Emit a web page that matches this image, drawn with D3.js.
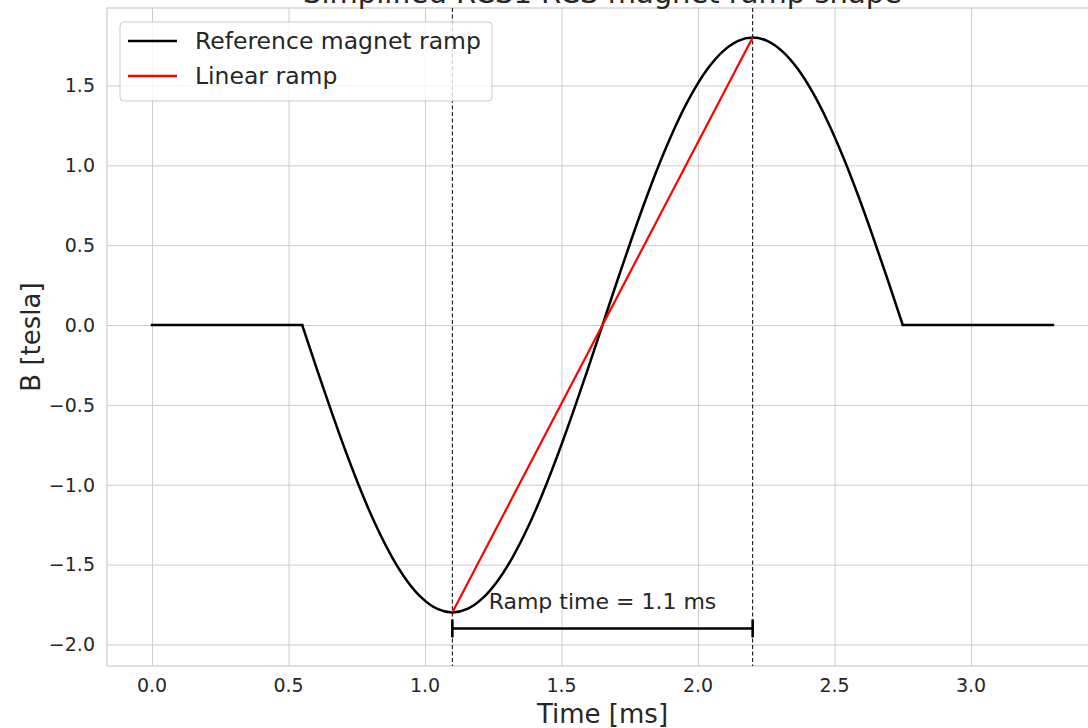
<!DOCTYPE html>
<html>
<head>
<meta charset="utf-8">
<script src="https://cdn.jsdelivr.net/npm/d3@7"></script>
<style>
  body { margin: 0; background: #fff; }
  svg { font-family: "DejaVu Sans", sans-serif; }
</style>
</head>
<body>
<svg id="chart" width="1088" height="728"></svg>
<script>
// ---- DATA ----
const flatTimes = [[0, 0.55], [2.75, 3.3]];
const flatValues = [[0, 0], [0, 0]];
const rampTimes = [0.55, 0.605, 0.66, 0.715, 0.77, 0.825, 0.88, 0.935, 0.99, 1.045, 1.1,
  1.155, 1.21, 1.265, 1.32, 1.375, 1.43, 1.485, 1.54, 1.595, 1.65,
  1.705, 1.76, 1.815, 1.87, 1.925, 1.98, 2.035, 2.09, 2.145, 2.2,
  2.255, 2.31, 2.365, 2.42, 2.475, 2.53, 2.585, 2.64, 2.695, 2.75];
const rampValues = [0, -0.282, -0.556, -0.817, -1.058, -1.273, -1.456, -1.604, -1.712, -1.778, -1.8,
  -1.778, -1.712, -1.604, -1.456, -1.273, -1.058, -0.817, -0.556, -0.282, 0,
  0.282, 0.556, 0.817, 1.058, 1.273, 1.456, 1.604, 1.712, 1.778, 1.8,
  1.778, 1.712, 1.604, 1.456, 1.273, 1.058, 0.817, 0.556, 0.282, 0];
const linearTimes = [1.1, 2.2];
const linearValues = [-1.8, 1.8];
const markerTimes = [1.1, 2.2];
const rampBarY = -1.9;
const xTicks = [0, 0.5, 1, 1.5, 2, 2.5, 3];
const yTicks = [-2, -1.5, -1, -0.5, 0, 0.5, 1, 1.5];
const legendLabels = ["Reference magnet ramp", "Linear ramp"];
const legendColors = ["#000000", "#ff0000"];

const textColor = "#262626";
const gridColor = "#cccccc";

const svg = d3.select("#chart");
const plotLeft = 107, plotRight = 1098, plotTop = 8, plotBottom = 666;

const x = d3.scaleLinear().domain([-0.165, 3.465]).range([plotLeft, plotRight]);
const y = d3.scaleLinear().domain([-2.135, 1.985]).range([plotBottom, plotTop]);

svg.append("defs").append("clipPath").attr("id", "plotClip")
  .append("rect").attr("x", plotLeft).attr("y", plotTop)
  .attr("width", plotRight - plotLeft).attr("height", plotBottom - plotTop);

// ---- grid ----
svg.append("g")
  .attr("transform", `translate(0,${plotBottom})`)
  .call(d3.axisBottom(x).tickValues(xTicks).tickSize(-(plotBottom - plotTop)).tickFormat(""))
  .call(g => g.select(".domain").remove())
  .call(g => g.selectAll("line").attr("stroke", gridColor).attr("stroke-width", 1));

svg.append("g")
  .attr("transform", `translate(${plotLeft},0)`)
  .call(d3.axisLeft(y).tickValues(yTicks).tickSize(-(plotRight - plotLeft)).tickFormat(""))
  .call(g => g.select(".domain").remove())
  .call(g => g.selectAll("line").attr("stroke", gridColor).attr("stroke-width", 1));

// spines
svg.append("rect")
  .attr("x", plotLeft).attr("y", plotTop)
  .attr("width", plotRight - plotLeft).attr("height", plotBottom - plotTop)
  .attr("fill", "none").attr("stroke", gridColor).attr("stroke-width", 1.2);

// ---- tick labels ----
const fmt = d => d3.format(".1f")(d).replace("-", "\u2212");
svg.append("g").selectAll("text").data(xTicks).join("text")
  .attr("x", d => x(d)).attr("y", 692)
  .attr("text-anchor", "middle")
  .attr("font-size", 19).attr("fill", textColor)
  .text(fmt);

svg.append("g").selectAll("text").data(yTicks).join("text")
  .attr("x", 95).attr("y", d => y(d)).attr("dy", "0.36em")
  .attr("text-anchor", "end")
  .attr("font-size", 19).attr("fill", textColor)
  .text(fmt);

// axis labels + title
svg.append("text")
  .attr("x", (plotLeft + plotRight) / 2).attr("y", 723)
  .attr("text-anchor", "middle").attr("font-size", 26).attr("fill", textColor)
  .text("Time [ms]");

svg.append("text")
  .attr("transform", `translate(40,${(plotTop + plotBottom) / 2}) rotate(-90)`)
  .attr("text-anchor", "middle").attr("font-size", 26).attr("fill", textColor)
  .text("B [tesla]");

svg.append("text")
  .attr("x", (plotLeft + plotRight) / 2).attr("y", 3)
  .attr("text-anchor", "middle").attr("font-size", 29).attr("fill", textColor)
  .text("Simplified RCS1 RCS magnet ramp shape");

// ---- plot content ----
const plot = svg.append("g").attr("clip-path", "url(#plotClip)");

// dashed markers
plot.selectAll(".marker").data(markerTimes).join("line")
  .attr("class", "marker")
  .attr("x1", d => x(d)).attr("x2", d => x(d))
  .attr("y1", plotTop).attr("y2", plotBottom)
  .attr("stroke", "#000").attr("stroke-width", 1)
  .attr("stroke-dasharray", "4,2.5");

const line = d3.line().x(d => x(d[0])).y(d => y(d[1]));
const smooth = d3.line().x(d => x(d[0])).y(d => y(d[1])).curve(d3.curveMonotoneX);

flatTimes.forEach((t, i) => {
  plot.append("path")
    .datum(d3.zip(t, flatValues[i]))
    .attr("d", line)
    .attr("fill", "none").attr("stroke", legendColors[0])
    .attr("stroke-width", 2.5).attr("stroke-linecap", "square");
});

plot.append("path")
  .datum(d3.zip(rampTimes, rampValues))
  .attr("d", smooth)
  .attr("fill", "none").attr("stroke", legendColors[0])
  .attr("stroke-width", 2.5).attr("stroke-linejoin", "round");

plot.append("path")
  .datum(d3.zip(linearTimes, linearValues))
  .attr("d", line)
  .attr("fill", "none").attr("stroke", legendColors[1])
  .attr("stroke-width", 2.2);

// ramp time bar |-|
const bar = plot.append("g").attr("stroke", "#000").attr("stroke-width", 2.6);
bar.append("line")
  .attr("x1", x(markerTimes[0])).attr("x2", x(markerTimes[1]))
  .attr("y1", y(rampBarY)).attr("y2", y(rampBarY));
bar.selectAll(".cap").data(markerTimes).join("line")
  .attr("class", "cap")
  .attr("x1", d => x(d)).attr("x2", d => x(d))
  .attr("y1", y(rampBarY) - 9).attr("y2", y(rampBarY) + 9);

plot.append("text")
  .attr("x", x(1.65)).attr("y", y(-1.73)).attr("dy", "0.36em")
  .attr("text-anchor", "middle").attr("font-size", 22).attr("fill", textColor)
  .text("Ramp time = 1.1 ms");

// ---- legend ----
const legend = svg.append("g");
legend.append("rect")
  .attr("x", 120).attr("y", 22).attr("width", 372).attr("height", 79)
  .attr("rx", 4).attr("fill", "rgba(255,255,255,0.8)")
  .attr("stroke", gridColor).attr("stroke-width", 1);

legendLabels.forEach((lab, i) => {
  const ly = 41 + i * 35;
  legend.append("line")
    .attr("x1", 128).attr("x2", 177).attr("y1", ly).attr("y2", ly)
    .attr("stroke", legendColors[i]).attr("stroke-width", 2.5);
  legend.append("text")
    .attr("x", 195).attr("y", ly).attr("dy", "0.36em")
    .attr("font-size", 23.5).attr("fill", textColor)
    .text(lab);
});
</script>
</body>
</html>
